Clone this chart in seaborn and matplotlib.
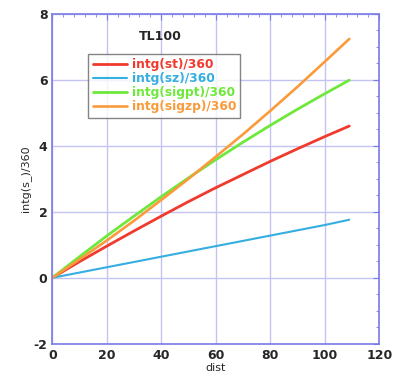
import pandas as pd
import matplotlib
matplotlib.use("Agg")
import matplotlib.pyplot as plt
import seaborn as sns
from matplotlib.ticker import MultipleLocator

# data
dist = [0, 10, 20, 30, 40, 50, 60, 70, 80, 90, 100, 109]
st = [0, 0.49, 0.96, 1.42, 1.87, 2.31, 2.73, 3.13, 3.53, 3.91, 4.28, 4.60]
sz = [0, 0.16, 0.32, 0.48, 0.64, 0.80, 0.96, 1.12, 1.28, 1.44, 1.60, 1.76]
sigpt = [0, 0.64, 1.27, 1.87, 2.46, 3.03, 3.58, 4.11, 4.62, 5.11, 5.58, 5.99]
sigzp = [0, 0.56, 1.13, 1.73, 2.36, 3.00, 3.67, 4.35, 5.06, 5.79, 6.55, 7.24]

series = {
    "intg(st)/360": st,
    "intg(sz)/360": sz,
    "intg(sigpt)/360": sigpt,
    "intg(sigzp)/360": sigzp,
}
colors = ["#f03a2e", "#35aee0", "#6ee83a", "#fa9a3a"]
widths = [2.0, 1.5, 2.0, 1.9]

sns.set_style("white")
plt.rcParams["font.family"] = ["DejaVu Sans"]
plt.rcParams["axes.unicode_minus"] = False

fig = plt.figure(figsize=(3.93, 3.85), dpi=100)
ax = fig.add_axes([0.133, 0.107, 0.832, 0.857])

for (name, vals), c, w in zip(series.items(), colors, widths):
    df = pd.DataFrame({"dist": dist, "val": vals})
    sns.lineplot(data=df, x="dist", y="val", ax=ax, color=c, linewidth=w, label=name)

ax.set_xlim(0, 120)
ax.set_ylim(-2, 8)
ax.xaxis.set_major_locator(MultipleLocator(20))
ax.xaxis.set_minor_locator(MultipleLocator(4))
ax.yaxis.set_major_locator(MultipleLocator(2))
ax.yaxis.set_minor_locator(MultipleLocator(0.5))

spine_c = "#7a7ae8"
ax.grid(True, which="major", color="#c4c4f4", linewidth=1.0)
for s in ax.spines.values():
    s.set_color(spine_c)
    s.set_linewidth(1.2)
ax.tick_params(which="both", direction="in", top=True, right=True, color=spine_c)
ax.tick_params(which="major", length=4, labelsize=9)
ax.tick_params(which="minor", length=2)
for lab in ax.get_xticklabels() + ax.get_yticklabels():
    lab.set_fontweight("bold")

ax.set_xlabel("dist", fontsize=8, labelpad=1)
ax.set_ylabel("intg(s_)/360", fontsize=8, labelpad=2)

ax.text(0.33, 0.93, "TL100", transform=ax.transAxes, ha="center", va="center",
        fontsize=9, fontweight="bold")

leg = ax.legend(loc="upper left", bbox_to_anchor=(0.11, 0.878), fontsize=8.8,
                frameon=True, fancybox=False, handlelength=2.8, borderpad=0.35,
                labelspacing=0.08, handletextpad=0.4, borderaxespad=0)
leg.get_frame().set_edgecolor("#666666")
leg.get_frame().set_linewidth(1.0)
for t, c in zip(leg.get_texts(), colors):
    t.set_color(c)
    t.set_fontweight("bold")

fig.savefig("out.png", dpi=100)
